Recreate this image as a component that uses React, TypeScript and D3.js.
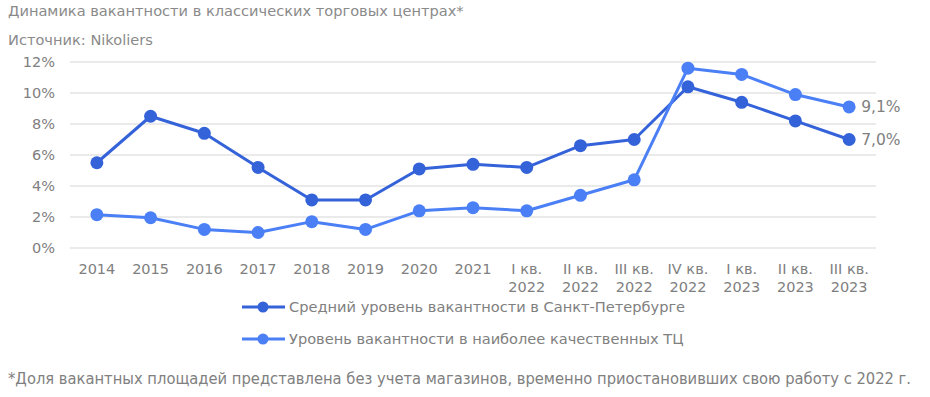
import * as d3 from "d3"

const W = 930, H = 397
const ML = 70, MR = 54, MT = 62, PH = 186

const categories = [
  ["2014"], ["2015"], ["2016"], ["2017"], ["2018"], ["2019"], ["2020"], ["2021"],
  ["I кв.", "2022"], ["II кв.", "2022"], ["III кв.", "2022"], ["IV кв.", "2022"],
  ["I кв.", "2023"], ["II кв.", "2023"], ["III кв.", "2023"],
]
const spbAvg = [5.5, 8.5, 7.4, 5.2, 3.1, 3.1, 5.1, 5.4, 5.2, 6.6, 7.0, 10.4, 9.4, 8.2, 7.0]
const bestMalls = [2.15, 1.95, 1.2, 1.0, 1.7, 1.2, 2.4, 2.6, 2.4, 3.4, 4.4, 11.6, 11.2, 9.9, 9.1]
const yTicks = [0, 2, 4, 6, 8, 10, 12]

const series = [
  { name: "Средний уровень вакантности в Санкт-Петербурге", values: spbAvg, color: "#3462d9", last: "7,0%" },
  { name: "Уровень вакантности в наиболее качественных ТЦ", values: bestMalls, color: "#4a7ff6", last: "9,1%" },
]

const FONT = "'DejaVu Sans', Verdana, sans-serif"
const GREY = "#808080"

export default function App() {
  const keys = categories.map((_, i) => String(i))
  const x = d3.scaleBand().domain(keys).range([ML, W - MR])
  const y = d3.scaleLinear().domain([0, 12]).range([MT + PH, MT])
  const cx = (i: number) => x(String(i))! + x.bandwidth() / 2
  const line = d3.line<number>().x((_, i) => cx(i)).y(v => y(v))

  return (
    <svg width={W} height={H} style={{ position: "absolute", left: 0, top: 0, fontFamily: FONT }}>
      <rect width={W} height={H} fill="#fff" />
      <text x={8} y={16} fontSize={14.6} fill="#8a8a8a">Динамика вакантности в классических торговых центрах*</text>
      <text x={8} y={45} fontSize={14.6} fill="#8a8a8a">Источник: Nikoliers</text>

      {/* grid + y axis */}
      {yTicks.map(t => (
        <g key={t}>
          <line x1={ML} x2={W - MR} y1={y(t)} y2={y(t)} stroke="#e3e3e3" strokeWidth={1.5} />
          <text x={55} y={y(t)} dy="0.35em" textAnchor="end" fontSize={14.5} fill={GREY}>{t}%</text>
        </g>
      ))}

      {/* x axis */}
      {categories.map((c, i) => (
        <text key={i} x={cx(i)} y={MT + PH + 26} textAnchor="middle" fontSize={14.5} fill={GREY}>
          {c.map((s, j) => <tspan key={j} x={cx(i)} dy={j === 0 ? 0 : 18}>{s}</tspan>)}
        </text>
      ))}

      {/* series */}
      {series.map(s => (
        <g key={s.name}>
          <path d={line(s.values)!} fill="none" stroke={s.color} strokeWidth={3} strokeLinejoin="round" />
          {s.values.map((v, i) => (
            <circle key={i} cx={cx(i)} cy={y(v)} r={6.5} fill={s.color} />
          ))}
          <text x={cx(s.values.length - 1) + 12} y={y(s.values[s.values.length - 1])} dy="0.35em"
            fontSize={15.5} fill={GREY}>{s.last}</text>
        </g>
      ))}

      {/* legend */}
      {series.map((s, k) => {
        const ly = 307 + k * 32
        return (
          <g key={s.name}>
            <line x1={242} x2={285} y1={ly} y2={ly} stroke={s.color} strokeWidth={3} />
            <circle cx={263} cy={ly} r={5.5} fill={s.color} />
            <text x={289} y={ly} dy="0.35em" fontSize={14.6} fill={GREY}>{s.name}</text>
          </g>
        )
      })}

      <text x={8} y={384} fontSize={15.5} fill={GREY} fontFamily="'DejaVu Sans Condensed', 'DejaVu Sans', sans-serif"
        textLength={903} lengthAdjust="spacingAndGlyphs">
        *Доля вакантных площадей представлена без учета магазинов, временно приостановивших свою работу с 2022 г.
      </text>
    </svg>
  )
}
